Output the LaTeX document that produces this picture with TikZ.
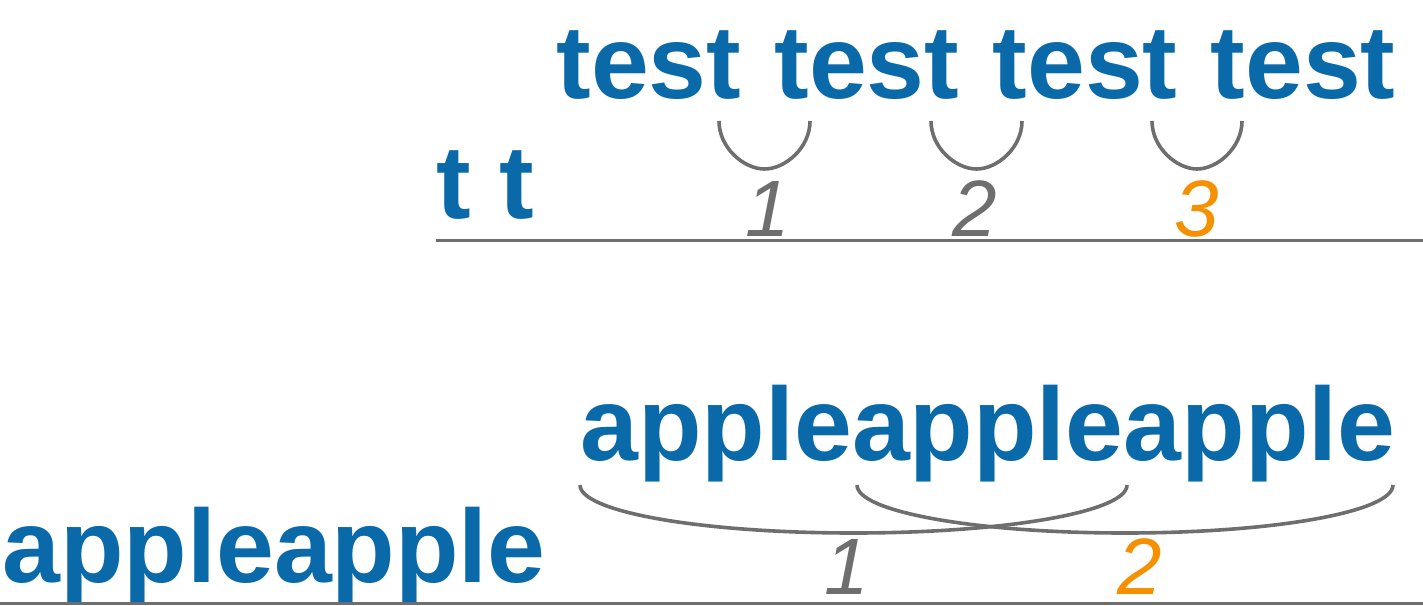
\documentclass[tikz,border=0pt]{standalone}
\usepackage{fontspec}
\setmainfont{Liberation Sans}
\definecolor{wordblue}{HTML}{0A6AA9}
\definecolor{linegray}{HTML}{6E6E6E}
\definecolor{hitorange}{HTML}{F59100}
\tikzset{
	word/.style={anchor=base west, inner sep=0pt, text=wordblue,
		font=\bfseries\fontsize{52}{60}\selectfont},
	count/.style={anchor=base, inner sep=0pt, text=linegray,
		font=\itshape\fontsize{40}{48}\selectfont},
	hit/.style={count, text=hitorange},
	match/.style={draw=linegray, line width=1.8pt},
	rule/.style={draw=linegray, line width=1.5pt}
}
\begin{document}
\begin{tikzpicture}[x=0.5pt, y=-0.5pt]
		\useasboundingbox (0,0) rectangle (1423,605);
		
		% upper case: pattern "t t"
		\node[word] (text1) at (556,98)
			{\spaceskip=16.6pt test test test test};
		\node[word] (pat1) at (436,218) {t t};
		\coordinate (r1a) at (436,240);
		\coordinate (r1b) at (1423,240);
		\draw[rule] (r1a) -- (r1b);
		
		\coordinate (u1a) at (719,121);
		\coordinate (u1b) at (810,121);
		\coordinate (u2a) at (931,121);
		\coordinate (u2b) at (1022,121);
		\coordinate (u3a) at (1152,121);
		\coordinate (u3b) at (1242,121);
		\draw[match] (u1a) .. controls (719,148) and (744,169) .. (764.5,169)
			.. controls (785,169) and (810,148) .. (u1b);
		\draw[match] (u2a) .. controls (931,148) and (956,169) .. (976.5,169)
			.. controls (997,169) and (1022,148) .. (u2b);
		\draw[match] (u3a) .. controls (1152,148) and (1177,169) .. (1197,169)
			.. controls (1217,169) and (1242,148) .. (u3b);
		
		\node[count] (n1) at (768,236) {1};
		\node[count] (n2) at (975,236) {2};
		\node[hit] (n3) at (1197,236) {3};
		
		% lower case: pattern "appleapple"
		\node[word] (text2) at (580,460) {appleappleapple};
		\node[word] (pat2) at (2,582) {appleapple};
		\coordinate (r2a) at (0,603);
		\coordinate (r2b) at (1423,603);
		\draw[rule] (r2a) -- (r2b);
		
		\coordinate (b1a) at (580,485);
		\coordinate (b1b) at (1127,485);
		\coordinate (b2a) at (857,485);
		\coordinate (b2b) at (1393,485);
		\draw[match] (b1a) .. controls (580,512) and (702,533) .. (853.5,533)
			.. controls (1005,533) and (1127,512) .. (b1b);
		\draw[match] (b2a) .. controls (857,512) and (977,533) .. (1125,533)
			.. controls (1273,533) and (1393,512) .. (b2b);
		
		\node[count] (m1) at (847,594) {1};
		\node[hit] (m2) at (1140,594) {2};
\end{tikzpicture}
\end{document}
